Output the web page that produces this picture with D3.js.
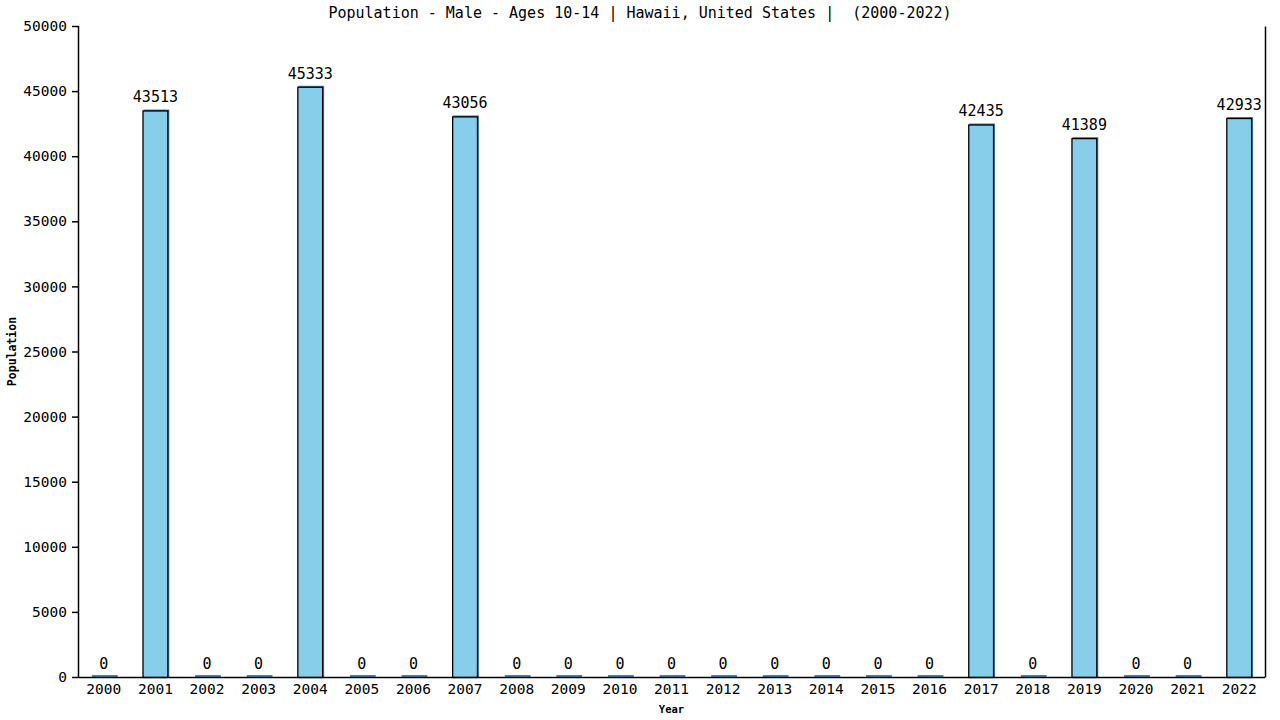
<!DOCTYPE html>
<html lang="en">
	<head>
		<meta charset="UTF-8">
		<title>Population</title>
		<script src="https://cdnjs.cloudflare.com/ajax/libs/d3/7.8.5/d3.min.js"></script>
		<style>
			body {margin: 0; background: #fff;}
			text {font-family: "DejaVu Sans Mono", "Liberation Mono", monospace; white-space: pre;}
		</style>
		<script>
var years = ["2000","2001","2002","2003","2004","2005","2006","2007","2008","2009","2010","2011",
	"2012","2013","2014","2015","2016","2017","2018","2019","2020","2021","2022"];
var population = [0,43513,0,0,45333,0,0,43056,0,0,0,0,0,0,0,0,0,42435,0,41389,0,0,42933];
var yTicks = [0,5000,10000,15000,20000,25000,30000,35000,40000,45000,50000];
var title = "Population - Male - Ages 10-14 | Hawaii, United States |  (2000-2022)";

function makeChart() {
	var svg = d3.select("#chart").attr("width", 1280).attr("height", 720);

	var left = 78, right = 1265, top = 26, bottom = 677;

	var x = d3.scaleBand().domain(years).range([left, right]).paddingInner(0.5).paddingOuter(0.25);
	var y = d3.scaleLinear().domain([0, 50000]).range([bottom, top]);

	svg.append("text")
		.attr("x", 640).attr("y", 18)
		.attr("text-anchor", "middle")
		.style("font-size", "15px")
		.text(title);

	// bars: steelblue shadow then skyblue with black edge
	var bars = svg.append("g");
	bars.selectAll("rect.shadow")
		.data(population)
		.join("rect")
		.attr("class", "shadow")
		.attr("x", function(d, i) {return x(years[i]) + 1;})
		.attr("y", function(d) {return d > 0 ? y(d) - 1 : y(0) - 2;})
		.attr("width", x.bandwidth())
		.attr("height", function(d) {return d > 0 ? y(0) - y(d) + 1 : 2;})
		.attr("fill", "steelblue");
	bars.selectAll("rect.bar")
		.data(population)
		.join("rect")
		.attr("class", "bar")
		.attr("x", function(d, i) {return x(years[i]) + 0.5;})
		.attr("y", function(d) {return y(d) + 0.5;})
		.attr("width", x.bandwidth() - 1)
		.attr("height", function(d) {return y(0) - y(d);})
		.attr("fill", "skyblue")
		.attr("stroke", "black")
		.attr("stroke-width", 1.3)
		.attr("display", function(d) {return d > 0 ? null : "none";});

	svg.append("g").selectAll("text")
		.data(population)
		.join("text")
		.attr("x", function(d, i) {return x(years[i]) + x.bandwidth() / 2;})
		.attr("y", function(d) {return y(d) - 8;})
		.attr("text-anchor", "middle")
		.style("font-size", "15px")
		.text(function(d) {return d;});

	var xAxis = svg.append("g")
		.attr("transform", "translate(0," + bottom + ")")
		.call(d3.axisBottom(x).tickSize(0).tickPadding(7));
	var yAxis = svg.append("g")
		.attr("transform", "translate(" + left + ",0)")
		.call(d3.axisLeft(y).tickValues(yTicks).tickFormat(d3.format("d")).tickSize(6).tickPadding(5));
	svg.append("g")
		.attr("transform", "translate(" + right + ",0)")
		.call(d3.axisRight(y).tickValues([]).tickSizeOuter(0));

	svg.selectAll(".domain").attr("stroke", "black").attr("stroke-width", 1.5);
	svg.selectAll(".tick line").attr("stroke", "black").attr("stroke-width", 1.5);
	svg.selectAll(".tick text")
		.attr("fill", "black")
		.style("font-family", "'DejaVu Sans Mono', monospace")
		.style("font-size", "14.5px");
	xAxis.select(".domain").attr("d", "M" + left + ",0.5H" + right);
	yAxis.select(".domain").attr("d", "M0.5," + top + "V" + bottom);

	svg.append("text")
		.attr("x", (left + right) / 2).attr("y", 713)
		.attr("text-anchor", "middle")
		.style("font-size", "10.5px").style("font-weight", "bold")
		.text("Year");
	svg.append("text")
		.attr("transform", "translate(16," + (top + bottom) / 2 + ") rotate(-90)")
		.attr("text-anchor", "middle")
		.style("font-size", "11.5px").style("font-weight", "bold")
		.text("Population");
}
		</script>
	</head>
	<body onload="makeChart()">
		<svg id="chart"></svg>
	</body>
</html>
